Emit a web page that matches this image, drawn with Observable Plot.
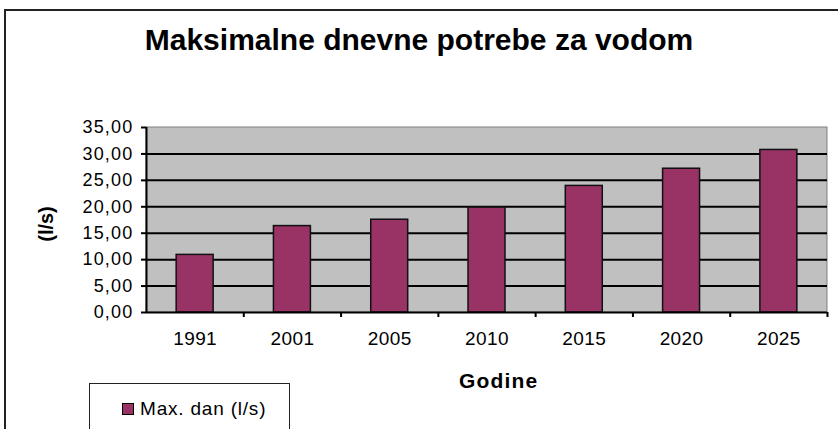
<!DOCTYPE html>
<html>
<head>
<meta charset="utf-8">
<script src="https://cdn.jsdelivr.net/npm/d3@7"></script>
<script src="https://cdn.jsdelivr.net/npm/@observablehq/plot@0.6"></script>
<style>
  html, body { margin: 0; padding: 0; background: #fff; }
  #wrap { position: relative; width: 838px; height: 429px; overflow: hidden; font-family: "Liberation Sans", Arial, sans-serif; }
  #frame { position: absolute; left: 4px; top: 9px; width: 900px; height: 500px; border: 2px solid #222; box-sizing: border-box; }
  #title { position: absolute; left: 0; width: 838px; top: 25px; line-height: 30px; text-align: center; font-weight: bold; font-size: 30px; color: #000; }
  #chart { position: absolute; left: 0; top: 0; }
  #legend { position: absolute; left: 89px; top: 383px; width: 201px; height: 80px; border: 1.5px solid #222; box-sizing: border-box; background: #fff; }
  #legend .sw { position: absolute; left: 32px; top: 19px; width: 12px; height: 12px; background: #993366; border: 1.5px solid #000; box-sizing: border-box; }
  #legend .lb { position: absolute; left: 50px; top: 15px; line-height: 19px; font-size: 19px; letter-spacing: 0.8px; color: #000; white-space: nowrap; }
  g[aria-label="y-axis tick label"] text { letter-spacing: 1.2px; }
  g[aria-label="x-axis tick label"] text { letter-spacing: 0.4px; }
  .lbl text { letter-spacing: 1.2px; }
</style>
</head>
<body>
<div id="wrap">
  <div id="frame"></div>
  <div id="title">Maksimalne dnevne potrebe za vodom</div>
  <div id="chart"></div>
  <div id="legend"><div class="sw"></div><div class="lb">Max. dan (l/s)</div></div>
</div>
<script>
const years = ["1991", "2001", "2005", "2010", "2015", "2020", "2025"];
const maxDan = [10.9, 16.35, 17.55, 19.85, 23.95, 27.2, 30.75];
const yTicks = [0, 5, 10, 15, 20, 25, 30, 35];

const data = years.map((y, i) => ({i, year: y, value: maxDan[i]}));
const fmt = d => d.toFixed(2).replace(".", ",");

const chart = Plot.plot({
  width: 838,
  height: 429,
  marginLeft: 146,
  marginRight: 11,
  marginTop: 127,
  marginBottom: 117,
  style: {fontFamily: "'Liberation Sans', Arial, sans-serif", background: "transparent", color: "#000"},
  x: {domain: [0, years.length], label: null},
  y: {domain: [0, 35], label: null},
  marks: [
    Plot.rect([0], {x1: 0, x2: years.length, y1: 0, y2: 35, fill: "#c0c0c0", stroke: "#808080", strokeWidth: 1}),
    Plot.ruleY(yTicks.filter(d => d > 0 && d < 35), {stroke: "#000", strokeWidth: 2}),
    Plot.rectY(data, {x1: d => d.i + 0.31, x2: d => d.i + 0.69, y: "value", fill: "#993366", stroke: "#111", strokeWidth: 1.5}),
    Plot.axisY({ticks: yTicks, tickFormat: fmt, tickSize: 5, tickPadding: 8, fontSize: 18, stroke: "#000", strokeWidth: 2}),
    Plot.ruleX([0], {stroke: "#000", strokeWidth: 2}),
    Plot.ruleY([0], {stroke: "#000", strokeWidth: 2}),
    Plot.axisX({ticks: d3.range(1, years.length + 1), tickSize: 5, text: null, stroke: "#000", strokeWidth: 2}),
    Plot.axisX({ticks: years.map((y, i) => i + 0.5), tickFormat: d => years[Math.floor(d)], tickSize: 0, tickPadding: 19, fontSize: 19}),
    Plot.text(["Godine"], {x: years.length / 2 + 0.12, y: 0, frameAnchor: "bottom", dy: 75, text: d => d, fontSize: 21, fontWeight: "bold", className: "lbl"}),
    Plot.text(["(l/s)"], {frameAnchor: "left", dx: -100, dy: 4, rotate: -90, textAnchor: "middle", text: d => d, fontSize: 20, fontWeight: "bold"})
  ]
});
document.getElementById("chart").appendChild(chart);
</script>
</body>
</html>
